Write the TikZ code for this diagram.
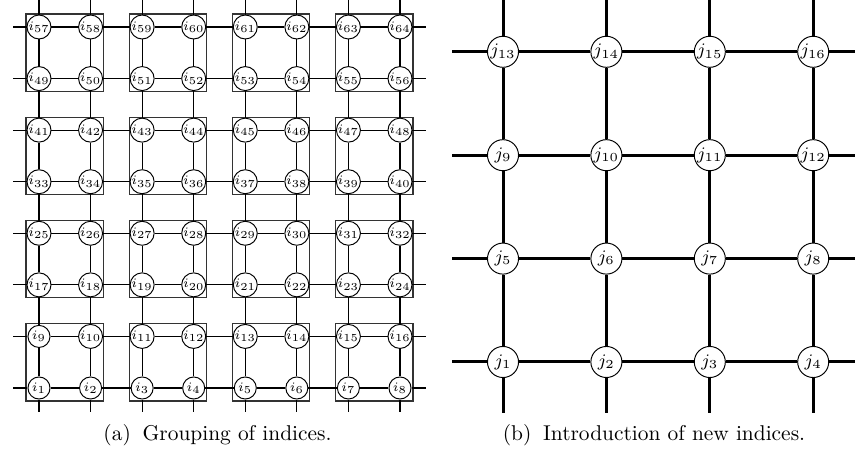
\RequirePackage{fix-cm}
\documentclass[tikz,border=0pt]{standalone}
\usepackage{fontspec}
\begin{document}
\begin{tikzpicture}[x=0.467pt,y=-0.467pt,
  inode/.style={circle,draw,fill=white,minimum size=10.3pt,inner sep=0pt,line width=0.45pt,font=\fontsize{6}{7}\selectfont},
  jnode/.style={circle,draw,fill=white,minimum size=14.5pt,inner sep=0pt,line width=0.45pt,font=\fontsize{8.2}{10}\selectfont},
  iline/.style={line width=0.55pt},
  jline/.style={line width=1.4pt},
  groupbox/.style={draw=black!80,line width=0.55pt},
  captext/.style={anchor=base,font=\fontsize{10}{12}\selectfont}]
\useasboundingbox (0,0) rectangle (855,458);
% ---------- left: grouping of indices ----------
\foreach \r in {0,...,7}{
  \foreach \c in {0,...,7}{
    \pgfmathtruncatemacro\n{8*\r+\c+1}
    \node[inode] (i\n) at ({39+51.57*\c},{388-51.57*\r}) {$i_{\n}$};
  }
}
\foreach \gr in {0,...,3}{
  \foreach \gc in {0,...,3}{
    \pgfmathtruncatemacro\na{16*\gr+2*\gc+1}
    \pgfmathtruncatemacro\nb{16*\gr+2*\gc+10}
    \draw[groupbox] ([shift={(-13,13)}]i\na.center) rectangle ([shift={(13,-13)}]i\nb.center);
  }
}
\foreach \r in {0,...,7}{
  \pgfmathtruncatemacro\first{8*\r+1}
  \pgfmathtruncatemacro\last{8*\r+8}
  \coordinate (hl\r) at (13,{388-51.57*\r});
  \coordinate (hr\r) at (426,{388-51.57*\r});
  \draw[iline] (hl\r) -- (i\first);
  \draw[iline] (i\last) -- (hr\r);
  \foreach \c in {0,...,6}{
    \pgfmathtruncatemacro\a{8*\r+\c+1}
    \pgfmathtruncatemacro\b{8*\r+\c+2}
    \draw[iline] (i\a) -- (i\b);
  }
}
\foreach \c in {0,...,7}{
  \pgfmathtruncatemacro\first{\c+1}
  \pgfmathtruncatemacro\last{\c+57}
  \coordinate (vb\c) at ({39+51.57*\c},412);
  \coordinate (vt\c) at ({39+51.57*\c},0);
  \draw[iline] (vb\c) -- (i\first);
  \draw[iline] (i\last) -- (vt\c);
  \foreach \r in {0,...,6}{
    \pgfmathtruncatemacro\a{8*\r+\c+1}
    \pgfmathtruncatemacro\b{8*\r+\c+9}
    \draw[iline] (i\a) -- (i\b);
  }
}
% ---------- right: new indices ----------
\foreach \r in {0,...,3}{
  \foreach \c in {0,...,3}{
    \pgfmathtruncatemacro\n{4*\r+\c+1}
    \node[jnode] (j\n) at ({503+103.4*\c},{362-103.4*\r}) {$j_{\n}$};
  }
}
\foreach \r in {0,...,3}{
  \pgfmathtruncatemacro\first{4*\r+1}
  \pgfmathtruncatemacro\last{4*\r+4}
  \coordinate (jl\r) at (452,{362-103.4*\r});
  \coordinate (jr\r) at (855,{362-103.4*\r});
  \draw[jline] (jl\r) -- (j\first);
  \draw[jline] (j\last) -- (jr\r);
  \foreach \c in {0,...,2}{
    \pgfmathtruncatemacro\a{4*\r+\c+1}
    \pgfmathtruncatemacro\b{4*\r+\c+2}
    \draw[jline] (j\a) -- (j\b);
  }
}
\foreach \c in {0,...,3}{
  \pgfmathtruncatemacro\first{\c+1}
  \pgfmathtruncatemacro\last{\c+13}
  \coordinate (jb\c) at ({503+103.4*\c},413);
  \coordinate (jt\c) at ({503+103.4*\c},0);
  \draw[jline] (jb\c) -- (j\first);
  \draw[jline] (j\last) -- (jt\c);
  \foreach \r in {0,...,2}{
    \pgfmathtruncatemacro\a{4*\r+\c+1}
    \pgfmathtruncatemacro\b{4*\r+\c+5}
    \draw[jline] (j\a) -- (j\b);
  }
}
% ---------- captions ----------
\node[captext] (capa) at (217.5,441) {(a)\hspace{0.55em}Grouping of indices.};
\node[captext] (capb) at (654,441) {(b)\hspace{0.55em}Introduction of new indices.};
\end{tikzpicture}
\end{document}
